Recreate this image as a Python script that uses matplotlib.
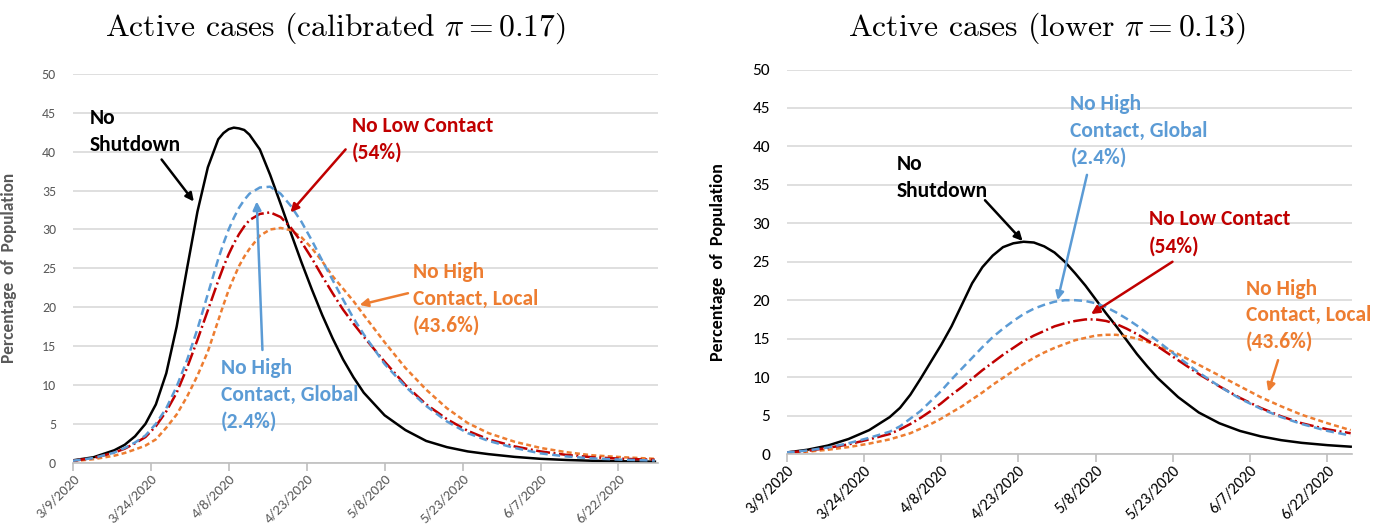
import matplotlib
matplotlib.use("Agg")
import matplotlib.pyplot as plt
from matplotlib import font_manager

# day offsets from 3/9/2020
DAYS_L = [0, 4, 8, 10, 12, 14, 16, 18, 20, 22, 24, 26, 28, 29, 30, 31, 32, 33, 34, 36, 38, 40,
          42, 44, 46, 48, 50, 52, 54, 56, 60, 64, 68, 72, 76, 80, 85, 90, 95, 100, 106, 112]
NO_SHUT_L = [0.3, 0.7, 1.6, 2.3, 3.4, 5.0, 7.5, 11.5, 17.5, 25.0, 32.3, 38.0, 41.6, 42.4, 42.9,
             43.1, 43.0, 42.8, 42.2, 40.3, 37.0, 33.3, 29.5, 25.8, 22.3, 19.0, 16.0, 13.3, 11.0,
             9.0, 6.1, 4.2, 2.8, 2.0, 1.45, 1.1, 0.75, 0.5, 0.35, 0.25, 0.18, 0.13]
GLOBAL_L = [0.25, 0.6, 1.3, 1.9, 2.6, 3.5, 5.0, 7.0, 9.8, 13.2, 17.2, 21.7, 26.2, 28.2, 30.0,
            31.5, 32.8, 33.8, 34.6, 35.4, 35.5, 34.6, 33.0, 31.0, 28.6, 26.0, 23.5, 21.0, 18.6,
            16.5, 12.7, 9.8, 7.3, 5.3, 3.8, 2.8, 1.9, 1.2, 0.8, 0.55, 0.38, 0.28]
LOWC_L = [0.25, 0.6, 1.3, 1.8, 2.5, 3.3, 4.7, 6.6, 9.0, 12.2, 15.8, 19.6, 23.4, 25.2, 26.8,
          28.2, 29.4, 30.4, 31.2, 32.0, 32.2, 31.6, 30.2, 28.4, 26.3, 24.0, 21.8, 19.7, 17.9,
          16.2, 13.0, 10.0, 7.5, 5.6, 4.1, 3.0, 2.1, 1.45, 1.0, 0.7, 0.5, 0.38]
LOCAL_L = [0.2, 0.45, 0.9, 1.25, 1.7, 2.2, 3.0, 4.5, 6.2, 8.5, 11.2, 14.3, 18.3, 20.3, 22.2,
           23.8, 25.3, 26.5, 27.5, 29.2, 30.0, 30.2, 29.9, 29.0, 27.6, 25.9, 24.0, 22.4, 20.8,
           19.0, 15.5, 12.2, 9.4, 7.0, 5.1, 3.8, 2.7, 1.9, 1.35, 0.95, 0.7, 0.5]

DAYS_R = [0, 4, 8, 12, 16, 20, 22, 24, 26, 28, 30, 32, 34, 36, 38, 40, 42, 44, 46, 48, 50,
          52, 54, 56, 58, 60, 62, 64, 66, 68, 70, 72, 76, 80, 84, 88, 92, 96, 100, 105, 109.5]
NO_SHUT_R = [0.2, 0.55, 1.1, 1.95, 3.1, 4.8, 6.0, 7.7, 9.8, 12.0, 14.2, 16.6, 19.4, 22.2, 24.3,
             25.8, 26.9, 27.4, 27.6, 27.5, 27.0, 26.2, 25.0, 23.5, 21.9, 20.1, 18.3, 16.6, 14.8,
             13.0, 11.4, 9.9, 7.4, 5.4, 4.0, 3.0, 2.3, 1.8, 1.45, 1.15, 0.95]
GLOBAL_R = [0.2, 0.45, 0.85, 1.4, 2.1, 2.9, 3.6, 4.6, 5.6, 6.9, 8.2, 9.7, 11.1, 12.5, 13.9,
            15.2, 16.3, 17.3, 18.2, 18.9, 19.4, 19.8, 20.0, 20.0, 19.9, 19.6, 19.1, 18.4, 17.6,
            16.7, 15.7, 14.7, 12.6, 10.6, 8.8, 7.2, 5.9, 4.8, 3.9, 3.0, 2.4]
LOWC_R = [0.2, 0.4, 0.8, 1.25, 1.9, 2.6, 3.2, 3.9, 4.7, 5.6, 6.6, 7.7, 8.7, 9.8, 10.9, 11.9,
          12.9, 13.8, 14.7, 15.4, 16.0, 16.6, 17.0, 17.3, 17.5, 17.5, 17.3, 16.9, 16.3, 15.6,
          14.8, 14.0, 12.2, 10.4, 8.8, 7.3, 6.0, 4.9, 4.0, 3.2, 2.7]
LOCAL_R = [0.15, 0.3, 0.55, 0.9, 1.35, 1.9, 2.3, 2.7, 3.3, 3.9, 4.6, 5.4, 6.2, 7.1, 8.0, 9.0,
           9.9, 10.8, 11.7, 12.5, 13.2, 13.8, 14.3, 14.8, 15.1, 15.4, 15.5, 15.5, 15.3, 15.0,
           14.6, 14.1, 13.0, 11.6, 10.2, 8.8, 7.4, 6.2, 5.1, 4.0, 3.1]

TICK_DAYS = [0, 15, 30, 45, 60, 75, 90, 105]
TICK_LABELS = ["3/9/2020", "3/24/2020", "4/8/2020", "4/23/2020",
               "5/8/2020", "5/23/2020", "6/7/2020", "6/22/2020"]

TITLES = [r"Active cases (calibrated $\pi = 0.17$)", r"Active cases (lower $\pi = 0.13$)"]

COLORS = {
    'shut': 'black',
    'global': '#5B9BD5',
    'lowc': '#C00000',
    'local': '#ED7D31',
}


def pick_font(names):
    have = {f.name for f in font_manager.fontManager.ttflist}
    for n in names:
        if n in have:
            return n
    return 'DejaVu Sans'


NARROW = pick_font(['Carlito', 'Liberation Sans Narrow', 'Liberation Sans'])
plt.rcParams['mathtext.fontset'] = 'cm'


def draw_panel(ax, days, shut, glob, lowc, local, xmax, tick_col, ysize, xsize):
    ax.set_xlim(0, xmax)
    ax.set_ylim(0, 50)
    ax.set_yticks(range(0, 51, 5))
    ax.grid(axis='y', color='#D9D9D9', lw=1.2)
    ax.set_axisbelow(True)
    for s in ['top', 'right', 'left']:
        ax.spines[s].set_visible(False)
    ax.spines['bottom'].set_color('#BFBFBF')
    ax.spines['bottom'].set_linewidth(1.2)
    ax.tick_params(axis='y', length=0, pad=12, labelcolor=tick_col, labelsize=ysize)
    ax.tick_params(axis='x', length=6, color='#BFBFBF', width=1.2, pad=1,
                   labelcolor=tick_col, labelsize=xsize)
    ax.set_xticks(TICK_DAYS)
    ax.set_xticklabels(TICK_LABELS, rotation=45, ha='right', rotation_mode='anchor')
    for lab in ax.get_xticklabels() + ax.get_yticklabels():
        lab.set_family(NARROW)

    ax.plot(days, shut, color=COLORS['shut'], lw=1.8)
    ax.plot(days, local, color=COLORS['local'], lw=1.8, dashes=(2, 1.3))
    ax.plot(days, lowc, color=COLORS['lowc'], lw=1.8, dashes=(5.6, 1.4, 0.8, 1.4))
    ax.plot(days, glob, color=COLORS['global'], lw=1.8, dashes=(3.2, 1.8))


def note(ax, txt, pos, tail, head, col):
    ax.text(pos[0], pos[1], txt, color=col, fontsize=15.5, fontweight='bold',
            family=NARROW, ha='left', va='top', linespacing=1.42)
    ax.annotate('', xy=head, xytext=tail,
                arrowprops=dict(arrowstyle='-|>', color=col, lw=1.8,
                                mutation_scale=12, shrinkA=0, shrinkB=0))


fig = plt.figure(figsize=(13.76, 5.27), dpi=100)
axL = fig.add_axes([72.7 / 1376, 64.3 / 527, (658 - 72.7) / 1376, (462.7 - 74) / 527])
axR = fig.add_axes([786.7 / 1376, 73 / 527, (1351.7 - 786.7) / 1376, (454 - 69.5) / 527])

draw_panel(axL, DAYS_L, NO_SHUT_L, GLOBAL_L, LOWC_L, LOCAL_L, 112.6, '#595959', 10, 10.5)
draw_panel(axR, DAYS_R, NO_SHUT_R, GLOBAL_R, LOWC_R, LOCAL_R, 109.7, '#000000', 12.5, 11.5)

axL.set_ylabel("Percentage  of  Population", fontsize=12.5, fontweight='bold',
               color='#595959', family=NARROW)
axR.set_ylabel("Percentage  of  Population", fontsize=13, fontweight='bold',
               color='black', family=NARROW)
axL.yaxis.set_label_coords(-0.095, 0.5)
axR.yaxis.set_label_coords(-0.108, 0.5)

note(axL, "No\nShutdown", (3.3, 45.6), (17.1, 39.0), (23.3, 33.6), COLORS['shut'])
note(axL, "No Low Contact\n(54%)", (53.7, 44.6), (52.5, 40.3), (41.9, 32.2), COLORS['lowc'])
note(axL, "No High\nContact, Local\n(43.6%)", (65.5, 25.8), (64.5, 21.8), (55.2, 20.3),
     COLORS['local'])
note(axL, "No High\nContact, Global\n(2.4%)", (28.5, 13.5), (36.5, 14.5), (35.4, 33.6),
     COLORS['global'])

note(axR, "No\nShutdown", (21.4, 39.0), (38.5, 33.0), (45.8, 27.7), COLORS['shut'])
note(axR, "No High\nContact, Global\n(2.4%)", (55.1, 46.8), (58.3, 36.3), (52.6, 20.0),
     COLORS['global'])
note(axR, "No Low Contact\n(54%)", (70.3, 31.8), (74.9, 25.0), (59.1, 18.2), COLORS['lowc'])
note(axR, "No High\nContact, Local\n(43.6%)", (89.2, 22.8), (95.4, 12.2), (93.5, 8.1),
     COLORS['local'])

fig.text(335 / 1376, 1 - 28 / 527, TITLES[0], fontsize=22.8, family='cmr10',
         ha='center', va='center')
fig.text(1046.5 / 1376, 1 - 28 / 527, TITLES[1], fontsize=22.8, family='cmr10',
         ha='center', va='center')

fig.savefig("out.png", dpi=100)
